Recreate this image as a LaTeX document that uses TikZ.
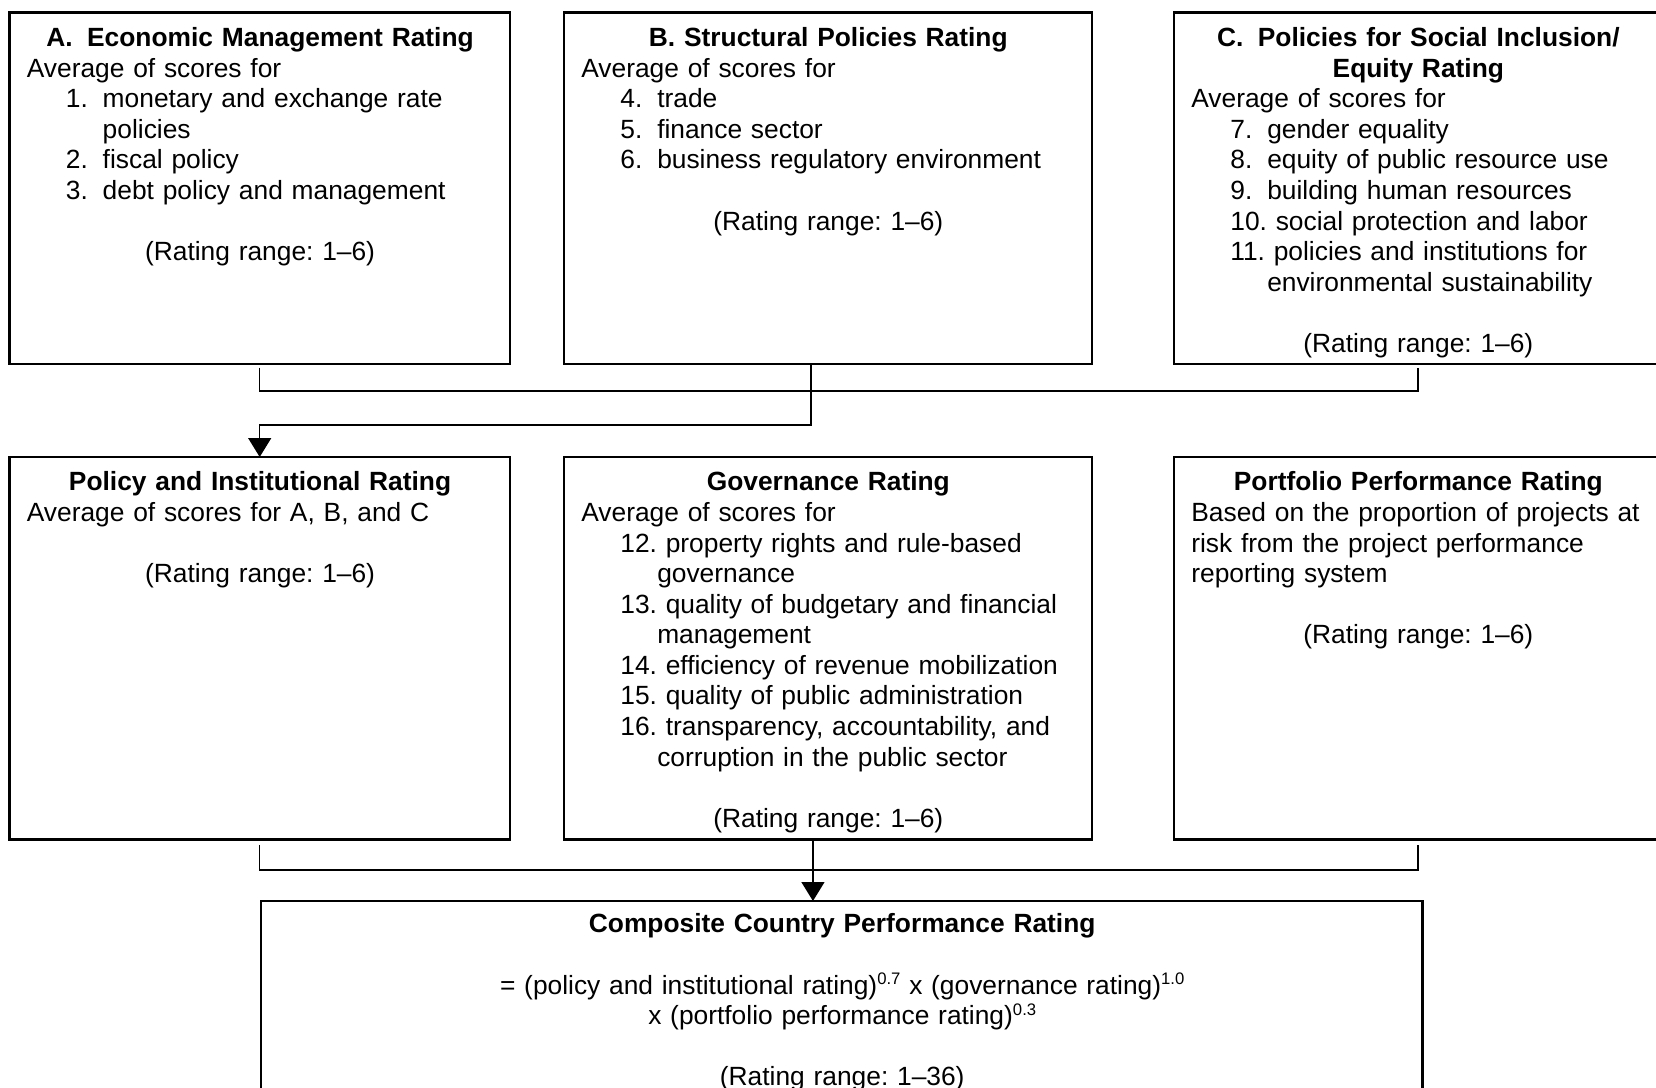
\documentclass[tikz,border=0pt]{standalone}
\usepackage{fontspec}
\setmainfont{Liberation Sans}
\usetikzlibrary{positioning,arrows.meta}
\setlength{\parindent}{0pt}
\frenchspacing
\newcommand{\cardtitle}[1]{{\centering\bfseries #1\par}}
\newcommand{\ratingrange}[1]{{\centering (Rating range: #1)\par}}
\newcommand{\emptyrow}{\par\mbox{}\par}
\newcommand{\scoreitem}[2]{\par\hspace*{1.48em}\setbox0=\hbox{#1\ }\ifdim\wd0<1.4em\makebox[1.4em][l]{#1}\else\box0\fi #2\par}
\newcommand{\scorecont}[1]{\hspace*{2.88em}#1\par}
\newcommand{\expo}[1]{\smash{\raisebox{0.36em}{\fontsize{9.5}{9.5}\selectfont #1}}}

\begin{document}
\begin{tikzpicture}[x=0.02cm, y=-0.02cm,
  box/.style={draw, line width=1.5pt, anchor=north west, inner sep=0pt, outer sep=0pt},
  txt/.style={anchor=north west, inner sep=0pt, align=left, font=\fontsize{15}{17.4}\selectfont},
  link/.style={line width=0.8pt},
  tip/.style={-{Triangle[width=0.46cm,length=0.38cm]}}]
\useasboundingbox (0,0) rectangle (1656,1088);
\clip (0,0) rectangle (1656,1088);
\node[box, minimum width=10.01cm, minimum height=7.03cm] (econ) at (9.5,12.7) {};
\node[box, minimum width=10.56cm, minimum height=7.03cm] (struct) at (564,12.7) {};
\node[box, minimum width=9.76cm, minimum height=7.03cm] (equity) at (1174,12.7) {};
\node[box, minimum width=10.01cm, minimum height=7.65cm] (policy) at (9.5,457) {};
\node[box, minimum width=10.56cm, minimum height=7.65cm] (gov) at (564,457) {};
\node[box, minimum width=9.76cm, minimum height=7.65cm] (portf) at (1174,457) {};
\node[box, minimum width=23.24cm, minimum height=5cm] (comp) at (261,901) {};

\node[txt, text width=9.33cm] (econtxt) at ([xshift=0.34cm, yshift=-0.29cm]econ.north west) {%
\cardtitle{A.\hspace{0.55em}Economic Management Rating}
Average of scores for
\scoreitem{1.}{monetary and exchange rate}
\scorecont{policies}
\scoreitem{2.}{fiscal policy}
\scoreitem{3.}{debt policy and management}
\emptyrow
\ratingrange{1–6}};
\node[txt, text width=9.88cm] (structtxt) at ([xshift=0.34cm, yshift=-0.29cm]struct.north west) {%
\cardtitle{B. Structural Policies Rating}
Average of scores for
\scoreitem{4.}{trade}
\scoreitem{5.}{finance sector}
\scoreitem{6.}{business regulatory environment}
\emptyrow
\ratingrange{1–6}};
\node[txt, text width=9.08cm] (equitytxt) at ([xshift=0.34cm, yshift=-0.29cm]equity.north west) {%
\cardtitle{C.\hspace{0.55em}Policies for Social Inclusion/\\Equity Rating}
Average of scores for
\scoreitem{7.}{gender equality}
\scoreitem{8.}{equity of public resource use}
\scoreitem{9.}{building human resources}
\scoreitem{10.}{social protection and labor}
\scoreitem{11.}{policies and institutions for}
\scorecont{environmental sustainability}
\emptyrow
\ratingrange{1–6}};
\node[txt, text width=9.33cm] (policytxt) at ([xshift=0.34cm, yshift=-0.29cm]policy.north west) {%
\cardtitle{Policy and Institutional Rating}
Average of scores for A, B, and C
\emptyrow
\ratingrange{1–6}};
\node[txt, text width=9.88cm] (govtxt) at ([xshift=0.34cm, yshift=-0.29cm]gov.north west) {%
\cardtitle{Governance Rating}
Average of scores for
\scoreitem{12.}{property rights and rule-based}
\scorecont{governance}
\scoreitem{13.}{quality of budgetary and financial}
\scorecont{management}
\scoreitem{14.}{efficiency of revenue mobilization}
\scoreitem{15.}{quality of public administration}
\scoreitem{16.}{transparency, accountability, and}
\scorecont{corruption in the public sector}
\emptyrow
\ratingrange{1–6}};
\node[txt, text width=9.08cm] (portftxt) at ([xshift=0.34cm, yshift=-0.29cm]portf.north west) {%
\cardtitle{Portfolio Performance Rating}
Based on the proportion of projects at\\
risk from the project performance\\
reporting system
\emptyrow
\ratingrange{1–6}};
\node[txt, text width=22.56cm] (comptxt) at ([xshift=0.34cm, yshift=-0.25cm]comp.north west) {%
\cardtitle{Composite Country Performance Rating}
\emptyrow
{\centering = (policy and institutional rating)\expo{0.7} x (governance rating)\expo{1.0}\\
x (portfolio performance rating)\expo{0.3}\par}
\emptyrow
\ratingrange{1–36}};

\coordinate (ja) at ([yshift=-0.54cm]econ.south);
\coordinate (jc) at ([yshift=-0.54cm]equity.south);
\coordinate (jb) at ([xshift=-0.34cm, yshift=-1.22cm]struct.south);
\draw[link] ([yshift=-0.07cm]econ.south) -- (ja) -- (jc) -- ([yshift=-0.07cm]equity.south);
\draw[link, tip] ([xshift=-0.34cm]struct.south) -- (jb) -| (policy.north);
\coordinate (jp) at ([yshift=-0.61cm]policy.south);
\coordinate (jq) at ([yshift=-0.61cm]portf.south);
\draw[link] ([yshift=-0.11cm]policy.south) -- (jp) -- (jq) -- ([yshift=-0.11cm]portf.south);
\draw[link, tip] ([xshift=-0.3cm]gov.south) -- ([xshift=-0.3cm]gov.south |- comp.north);
\end{tikzpicture}
\end{document}
